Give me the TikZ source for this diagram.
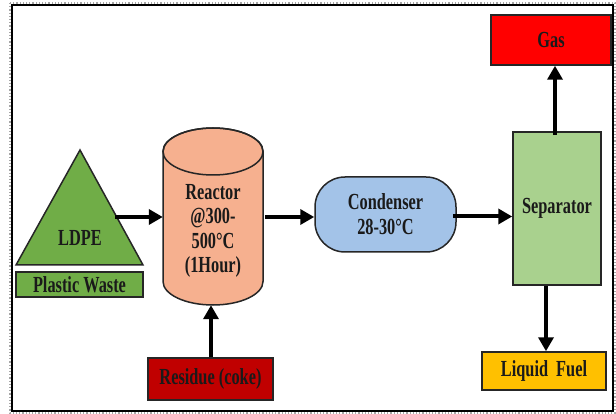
\documentclass[tikz,border=0pt]{standalone}
\usepackage{fontspec}
\setmainfont{Liberation Serif}[FakeStretch=0.71]
\usetikzlibrary{arrows.meta}
\definecolor{ldpegreen}{HTML}{70AD47}
\definecolor{reactorpeach}{HTML}{F6B08F}
\definecolor{condblue}{HTML}{A3C3E8}
\definecolor{sepgreen}{HTML}{A9D18E}
\definecolor{gasred}{HTML}{FF0000}
\definecolor{fuelyellow}{HTML}{FFC000}
\definecolor{residuered}{HTML}{C00000}
\definecolor{txt}{HTML}{1A1A1A}
\tikzset{
  box/.style={draw=black!85, line width=1.5pt, rectangle, inner sep=0pt, text=txt,
    font=\fontsize{23}{25}\selectfont\bfseries, align=center},
  lbl/.style={inner sep=0pt, text=txt, font=\fontsize{23}{24.5}\selectfont\bfseries, align=center},
  arr/.style={line width=4pt, -{Triangle[width=15pt,length=14pt]}, black}
}
\begin{document}
\begin{tikzpicture}[x=1pt, y=-1pt]
\useasboundingbox (0,0) rectangle (616,414);
% frame
\draw[gray!70, line width=1.2pt, dotted] (10,3) rectangle (615,413);
\draw[black, line width=1.4pt] (12,5) rectangle (613,411);

% LDPE triangle
\path[draw=black!85, line width=1.5pt, fill=ldpegreen] (80,150) -- (143,265) -- (16,265) -- cycle;
\node[lbl] (ldpe) at (80,238) {LDPE};
\coordinate (ldpeout) at (115,217);
\node[box, fill=ldpegreen, minimum width=127pt, minimum height=25pt] (plastic) at (79.5,284.5) {Plastic Waste};

% Reactor cylinder
\node[minimum width=100pt, minimum height=177pt, inner sep=0pt] (reactor) at (213,216.5) {};
\path[draw=black!85, line width=1.5pt, fill=reactorpeach]
  (163,151.5) -- (163,281.5) arc[start angle=180, end angle=360, x radius=50pt, y radius=23.5pt]
  -- (263,151.5) arc[start angle=0, end angle=180, x radius=50pt, y radius=23.5pt] -- cycle;
\draw[black!85, line width=1.5pt] (213,151.5) ellipse [x radius=50pt, y radius=23.5pt];
\node[lbl] (reactortext) at (213,231) {Reactor\\@300-\\500°C\\(1Hour)};

% Condenser
\node[box, fill=condblue, rounded corners=30pt, minimum width=141pt, minimum height=75pt] (condenser) at (385.5,214.5) {Condenser\\28-30°C};

% Separator
\node[box, fill=sepgreen, minimum width=88pt, minimum height=153pt] (separator) at (557,208.5) {Separator};

% Gas
\node[box, fill=gasred, minimum width=120pt, minimum height=50pt] (gas) at (551,40) {Gas};

% Liquid Fuel
\node[box, fill=fuelyellow, minimum width=124pt, minimum height=38pt] (fuel) at (544,371) {Liquid\hspace{0.35em}Fuel};

% Residue
\node[box, fill=residuered, minimum width=125pt, minimum height=42pt] (residue) at (210.5,379) {Residue (coke)};

% arrows
\draw[arr] (ldpeout) -- (ldpeout -| reactor.west);
\draw[arr] ([xshift=2pt,yshift=-0.5pt]reactor.east) -- ([yshift=-0.5pt]reactor.east -| condenser.west);
\draw[arr] ([xshift=-4pt,yshift=-2pt]condenser.east) -- ([yshift=-2pt]condenser.east -| separator.west);
\draw[arr] ([xshift=-2pt,yshift=-4pt]separator.north) -- ([xshift=-2pt]separator.north |- gas.south);
\draw[arr] ([xshift=-11pt]separator.south) -- ([xshift=-11pt]separator.south |- fuel.north);
\draw[arr] ([xshift=0.5pt]residue.north) -- ([xshift=0.5pt]residue.north |- reactor.south);
\end{tikzpicture}
\end{document}
